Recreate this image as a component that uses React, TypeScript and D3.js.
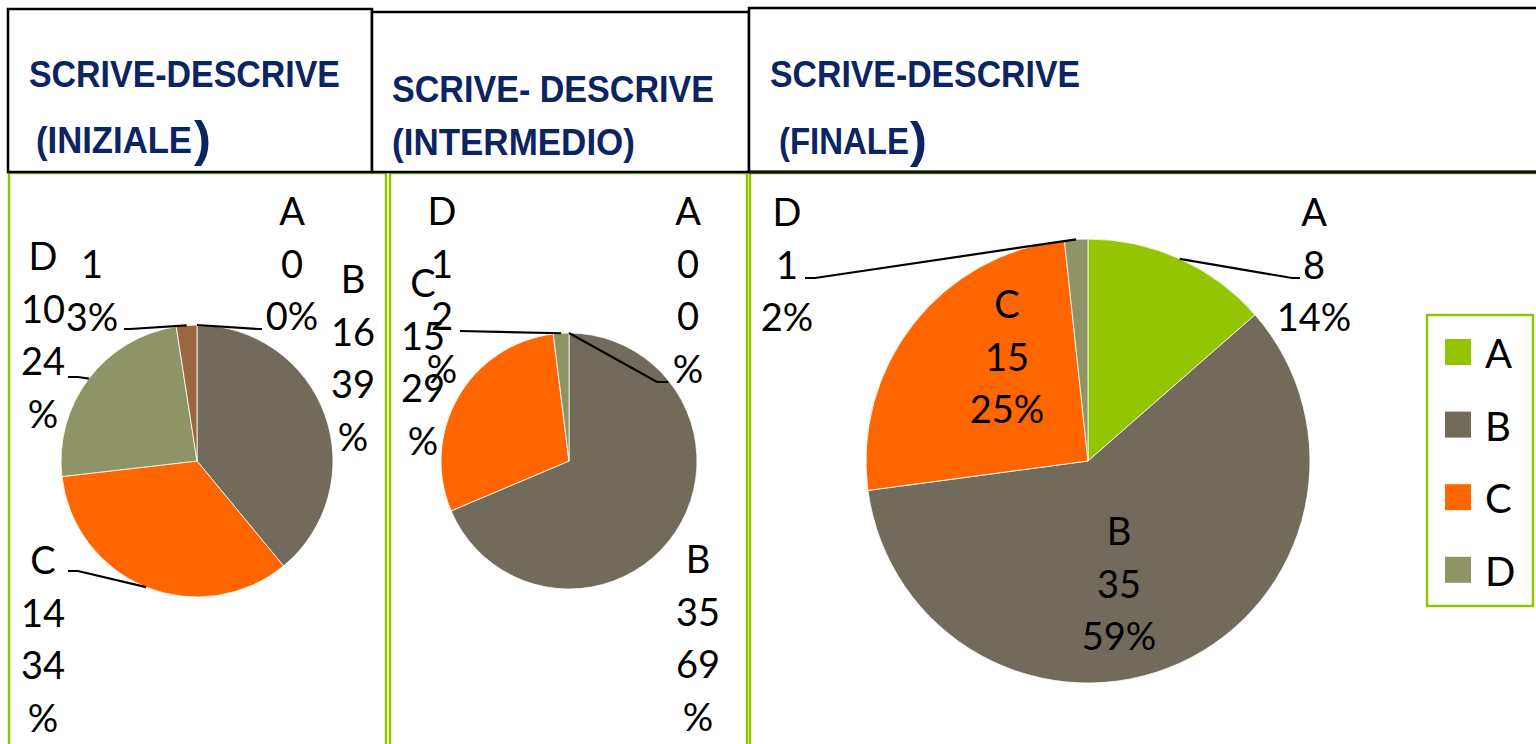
import React from "react";
import * as d3 from "d3";

// ---------- data ----------
const inizialeCategories = ["A", "B", "C", "D", ""];
const inizialeValues = [0, 16, 14, 10, 1];
const inizialePercent = ["0%", "39%", "34%", "24%", "3%"];

const intermedioCategories = ["A", "B", "C", "D"];
const intermedioValues = [0, 35, 15, 1];
const intermedioPercent = ["0%", "69%", "29%", "2%"];

const finaleCategories = ["A", "B", "C", "D"];
const finaleValues = [8, 35, 15, 1];
const finalePercent = ["14%", "59%", "25%", "2%"];

const legendCategories = ["A", "B", "C", "D"];

const titleLine1 = ["SCRIVE-DESCRIVE", "SCRIVE- DESCRIVE", "SCRIVE-DESCRIVE"];
const titleLine2 = ["(INIZIALE", "(INTERMEDIO)", "(FINALE"];

// ---------- styles / layout ----------
const colorOf: Record<string, string> = {
  A: "#93C500",
  B: "#726A5B",
  C: "#FF6600",
  D: "#8F9466",
  "": "#9A6840",
};
const NAVY = "#0C2461";
const GREEN = "#92C400";
const LABEL_FONT = "Lato, 'Open Sans', sans-serif";
const TITLE_FONT = "'Liberation Sans Narrow', 'Liberation Sans', Arial, sans-serif";
const LINE_H = 52.5;

type LabelLayout = {
  x: number;
  y: number;
  split: boolean;
  leader?: number[][]; // intermediate points, ending near the label
};

const inizialeLayout: LabelLayout[] = [
  { x: 292, y: 225, split: false, leader: [[258, 329], [262, 329]] },
  { x: 353, y: 293, split: true },
  { x: 43, y: 574, split: true, leader: [[78, 571], [68, 571]] },
  { x: 43, y: 270, split: true, leader: [[78, 377], [68, 377]], },
  { x: 92, y: 278, split: false, leader: [[130, 329], [124, 329]] },
];
const intermedioLayout: LabelLayout[] = [
  { x: 688, y: 225, split: true, leader: [[657, 382], [668, 382]] },
  { x: 698, y: 573, split: true },
  { x: 423, y: 297, split: true },
  { x: 442, y: 225, split: true, leader: [[460, 331]] },
];
const finaleLayout: LabelLayout[] = [
  { x: 1314, y: 226, split: false, leader: [[1292, 278], [1300, 278]] },
  { x: 1119, y: 545, split: false },
  { x: 1007, y: 318, split: false },
  { x: 787, y: 226, split: false, leader: [[815, 278], [805, 278]] },
];

function labelLines(cat: string, val: number, pct: string, split: boolean) {
  const out: string[] = [];
  if (cat) out.push(cat);
  out.push(String(val));
  if (split) {
    out.push(pct.replace("%", ""));
    out.push("%");
  } else out.push(pct);
  return out;
}

type PieProps = {
  cx: number;
  cy: number;
  r: number;
  cats: string[];
  values: number[];
  pcts: string[];
  layout: LabelLayout[];
};

function Pie({ cx, cy, r, cats, values, pcts, layout }: PieProps) {
  const pie = d3.pie<number>().sort(null).value((d) => d);
  const arcs = pie(values);
  const arc = d3.arc<d3.PieArcDatum<number>>().innerRadius(0).outerRadius(r);
  return (
    <g>
      <g transform={`translate(${cx},${cy})`}>
        {arcs.map((a, i) =>
          a.endAngle - a.startAngle > 0 ? (
            <path
              key={i}
              d={arc(a) || ""}
              fill={colorOf[cats[i]]}
              stroke="#ffffff"
              strokeWidth={0.8}
            />
          ) : null
        )}
      </g>
      {arcs.map((a, i) => {
        const L = layout[i];
        if (!L.leader) return null;
        const mid = (a.startAngle + a.endAngle) / 2;
        const sx = cx + r * Math.sin(mid);
        const sy = cy - r * Math.cos(mid);
        const pts = [[sx, sy], ...L.leader];
        const line = d3.line()(pts as [number, number][]);
        return (
          <path key={"l" + i} d={line || ""} fill="none" stroke="#000" strokeWidth={2.2} />
        );
      })}
      {arcs.map((a, i) => {
        const L = layout[i];
        const lines = labelLines(cats[i], values[i], pcts[i], L.split);
        return (
          <text
            key={"t" + i}
            x={L.x}
            y={L.y}
            textAnchor="middle"
            fontFamily={LABEL_FONT}
            fontSize={38}
            fill="#000"
          >
            {lines.map((s, j) => (
              <tspan key={j} x={L.x} y={L.y + j * LINE_H}>
                {s}
              </tspan>
            ))}
          </text>
        );
      })}
    </g>
  );
}

export default function App() {
  return (
    <svg
      width={1536}
      height={744}
      style={{ position: "fixed", left: 0, top: 0, background: "#fff" }}
    >
      <rect x={0} y={0} width={1536} height={744} fill="#fff" />

      {/* green chart boxes */}
      <rect x={9} y={173} width={377} height={600} fill="none" stroke={GREEN} strokeWidth={2.5} />
      <rect x={390} y={173} width={357} height={600} fill="none" stroke={GREEN} strokeWidth={2.5} />
      <rect x={750} y={173} width={820} height={600} fill="none" stroke={GREEN} strokeWidth={2.5} />

      {/* header cells */}
      <rect x={8} y={9} width={364} height={163} fill="#fff" stroke="#000" strokeWidth={2.5} />
      <rect x={372} y={12} width={377} height={160} fill="#fff" stroke="#000" strokeWidth={2.5} />
      <rect x={749} y={8} width={800} height={164} fill="#fff" stroke="#000" strokeWidth={2.5} />
      <line x1={749} x2={1536} y1={172} y2={172} stroke="#111" strokeWidth={3} />

      {/* titles */}
      <g fontFamily={TITLE_FONT} fontWeight="bold" fill={NAVY}>
        <text x={29} y={87} fontSize={37} textLength={311} lengthAdjust="spacingAndGlyphs">
          {titleLine1[0]}
        </text>
        <text x={36} y={153} fontSize={37} textLength={156} lengthAdjust="spacingAndGlyphs">
          {titleLine2[0]}
        </text>
        <text x={194} y={156} fontSize={50} textLength={17} lengthAdjust="spacingAndGlyphs">
          )
        </text>

        <text x={392} y={102} fontSize={37} textLength={322} lengthAdjust="spacingAndGlyphs">
          {titleLine1[1]}
        </text>
        <text x={392} y={155} fontSize={37} textLength={243} lengthAdjust="spacingAndGlyphs">
          {titleLine2[1]}
        </text>

        <text x={770} y={87} fontSize={37} textLength={310} lengthAdjust="spacingAndGlyphs">
          {titleLine1[2]}
        </text>
        <text x={779} y={154} fontSize={37} textLength={130} lengthAdjust="spacingAndGlyphs">
          {titleLine2[2]}
        </text>
        <text x={910} y={157} fontSize={50} textLength={17} lengthAdjust="spacingAndGlyphs">
          )
        </text>
      </g>

      <Pie
        cx={197}
        cy={461}
        r={136}
        cats={inizialeCategories}
        values={inizialeValues}
        pcts={inizialePercent}
        layout={inizialeLayout}
      />
      <Pie
        cx={569}
        cy={461}
        r={128}
        cats={intermedioCategories}
        values={intermedioValues}
        pcts={intermedioPercent}
        layout={intermedioLayout}
      />
      <Pie
        cx={1088}
        cy={461}
        r={222}
        cats={finaleCategories}
        values={finaleValues}
        pcts={finalePercent}
        layout={finaleLayout}
      />

      {/* legend */}
      <rect x={1427} y={315} width={106} height={291} fill="#fff" stroke={GREEN} strokeWidth={2.5} />
      {legendCategories.map((c, i) => (
        <g key={c}>
          <rect x={1445} y={339 + i * 72.6} width={26} height={26} fill={colorOf[c]} />
          <text
            x={1485}
            y={368 + i * 72.6}
            fontFamily={LABEL_FONT}
            fontSize={40}
            fill="#000"
          >
            {c}
          </text>
        </g>
      ))}
    </svg>
  );
}
